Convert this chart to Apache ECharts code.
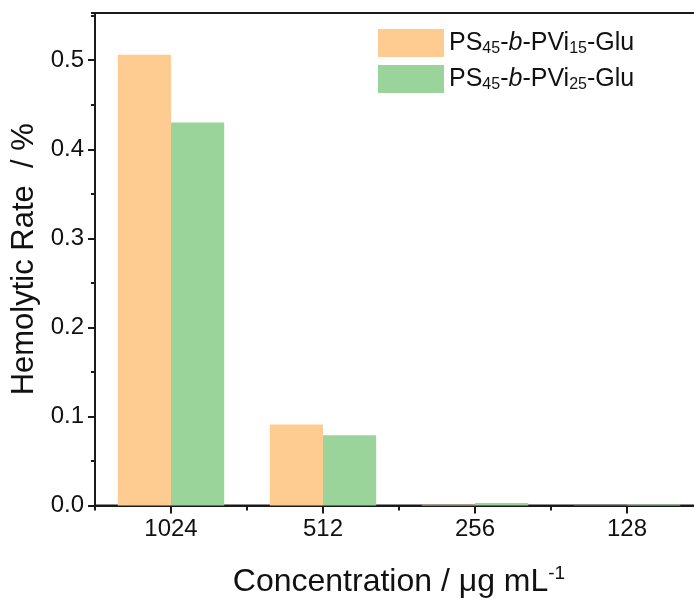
<!DOCTYPE html>
<html>
<head>
<meta charset="utf-8">
<script src="https://cdn.jsdelivr.net/npm/echarts@6/dist/echarts.min.js"></script>
<style>
  html, body { margin: 0; padding: 0; background: #fff; overflow: hidden; width: 694px; height: 603px; }
  /* the plot frame runs past the right edge of the page */
  #chart { width: 703px; height: 603px; }
</style>
</head>
<body>
<div id="chart"></div>
<script>
// Concentrations tested (µg/mL) and hemolytic rate (%) for the two copolymers
const concentrations = ['1024', '512', '256', '128'];
const rateVi15 = [0.506, 0.091, 0.0008, 0.0003];
const rateVi25 = [0.430, 0.079, 0.0028, 0.0012];

const yMax = 0.553;
const font = 'Liberation Sans, Arial, sans-serif';
const ink = '#111';
const axisColor = '#1a1a1a';

const legendRich = {
  base: { fontFamily: font, fontSize: 25, color: ink, lineHeight: 28 },
  sub: { fontFamily: font, fontSize: 16, color: ink, lineHeight: 11, verticalAlign: 'bottom' },
  it: { fontFamily: font, fontSize: 25, color: ink, fontStyle: 'italic', lineHeight: 28 }
};

const legendText = {
  'Vi15': '{base|PS}{sub|45}{base|-}{it|b}{base|-PVi}{sub|15}{base|-Glu}',
  'Vi25': '{base|PS}{sub|45}{base|-}{it|b}{base|-PVi}{sub|25}{base|-Glu}'
};

const chart = echarts.init(document.getElementById('chart'), null, { renderer: 'canvas' });

chart.setOption({
  backgroundColor: '#fff',
  animation: false,
  textStyle: { fontFamily: font },
  grid: {
    left: 95, right: 0, top: 13, bottom: 96,
    show: true, borderColor: axisColor, borderWidth: 2, backgroundColor: 'transparent'
  },
  legend: {
    left: 373, top: 24, orient: 'vertical',
    itemWidth: 66, itemHeight: 28, itemGap: 8,
    icon: 'rect',
    data: ['Vi15', 'Vi25'],
    formatter: name => legendText[name],
    textStyle: { rich: legendRich }
  },
  xAxis: [
    {
      type: 'category',
      data: concentrations,
      position: 'bottom',
      axisLine: { show: true, lineStyle: { color: axisColor, width: 2 } },
      axisTick: { show: true, alignWithLabel: true, inside: false, length: 8, lineStyle: { color: axisColor, width: 2 } },
      axisLabel: { color: ink, fontSize: 24, fontFamily: font, margin: 12 },
      name: '{t|Concentration / \u03bcg mL}{sup|-1}',
      nameLocation: 'middle',
      nameGap: 59,
      nameTextStyle: {
        rich: {
          t: { fontFamily: font, fontSize: 32, color: ink, lineHeight: 35 },
          sup: { fontFamily: font, fontSize: 19, color: ink, lineHeight: 31, verticalAlign: 'top' }
        }
      },
      splitLine: { show: false }
    },
    {
      // short ticks at the category boundaries
      type: 'category',
      data: concentrations,
      position: 'bottom',
      axisLine: { show: false },
      axisTick: { show: true, alignWithLabel: false, length: 5, lineStyle: { color: axisColor, width: 2 } },
      axisLabel: { show: false },
      splitLine: { show: false }
    }
  ],
  yAxis: [
    {
      type: 'value',
      min: 0, max: yMax, interval: 0.1,
      axisLine: { show: true, lineStyle: { color: axisColor, width: 2 } },
      axisTick: { show: true, inside: false, length: 7, lineStyle: { color: axisColor, width: 2 } },
      axisLabel: {
        color: ink, fontSize: 24, fontFamily: font, margin: 11, showMaxLabel: false,
        formatter: v => v.toFixed(1)
      },
      splitLine: { show: false },
      name: 'Hemolytic Rate  / %',
      nameLocation: 'middle',
      nameGap: 54,
      nameTextStyle: { fontFamily: font, fontSize: 31, color: ink }
    },
    {
      // minor ticks every 0.05
      type: 'value',
      position: 'left',
      min: 0, max: yMax, interval: 0.05,
      axisLine: { show: false },
      axisTick: { show: true, inside: false, length: 4, lineStyle: { color: axisColor, width: 2 } },
      axisLabel: { show: false },
      splitLine: { show: false }
    }
  ],
  series: [
    {
      name: 'Vi15', type: 'bar', data: rateVi15,
      xAxisIndex: 0, yAxisIndex: 0,
      barGap: '0%', barCategoryGap: '30%',
      itemStyle: { color: '#FECB91' }
    },
    {
      name: 'Vi25', type: 'bar', data: rateVi25,
      xAxisIndex: 0, yAxisIndex: 0,
      barGap: '0%', barCategoryGap: '30%',
      itemStyle: { color: '#9AD49B' }
    }
  ]
});
</script>
</body>
</html>
